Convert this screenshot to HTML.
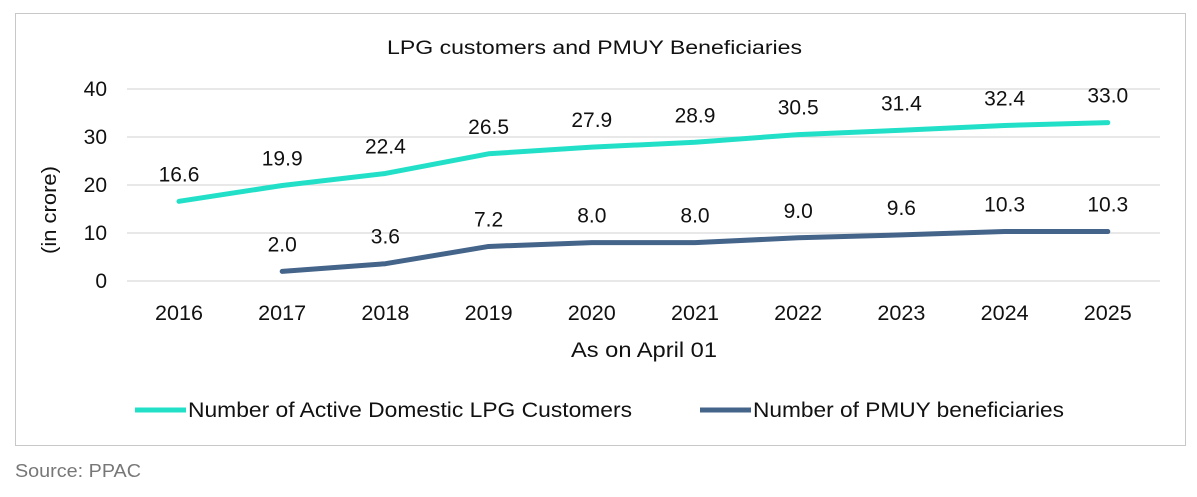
<!DOCTYPE html>
<html><head><meta charset="utf-8"><style>
body{margin:0;background:#fff;width:1197px;height:492px;overflow:hidden}
svg text{font-family:"Liberation Sans",sans-serif;fill:#111}
</style></head><body>
<svg width="1197" height="492">
<rect x="15.5" y="13.5" width="1170" height="432" fill="#fff" stroke="#c8c8c8"/>
<text x="387" y="54" font-size="19" textLength="415" lengthAdjust="spacingAndGlyphs">LPG customers and PMUY Beneficiaries</text>
<g id="grid"></g><g id="yt"></g><g id="xt"></g><g id="lines"></g><g id="labels"></g>
<text transform="translate(56,210) rotate(-90)" font-size="20" textLength="88" lengthAdjust="spacingAndGlyphs" text-anchor="middle">(in crore)</text>
<text x="571" y="357" font-size="21" textLength="146" lengthAdjust="spacingAndGlyphs">As on April 01</text>
<line x1="135" y1="410" x2="186" y2="410" stroke="#22E0C8" stroke-width="5"/>
<text x="188" y="417" font-size="21" textLength="444" lengthAdjust="spacingAndGlyphs">Number of Active Domestic LPG Customers</text>
<line x1="700" y1="410" x2="751" y2="410" stroke="#44648A" stroke-width="5"/>
<text x="753" y="417" font-size="21" textLength="311" lengthAdjust="spacingAndGlyphs">Number of PMUY beneficiaries</text>
<text x="15" y="477" font-size="18" style="fill:#777" textLength="126" lengthAdjust="spacingAndGlyphs">Source: PPAC</text>
</svg>
<script>
const years=["2016","2017","2018","2019","2020","2021","2022","2023","2024","2025"];
const lpg=[16.6,19.9,22.4,26.5,27.9,28.9,30.5,31.4,32.4,33.0];
const pmuy=[null,2.0,3.6,7.2,8.0,8.0,9.0,9.6,10.3,10.3];
const yTicks=[0,10,20,30,40];
const NS="http://www.w3.org/2000/svg";
const x=i=>179+i*103.2;
const y=v=>281-v*(192/40);
function mk(tag,attrs,parent,txt){const e=document.createElementNS(NS,tag);for(const k in attrs)e.setAttribute(k,attrs[k]);if(txt!=null)e.textContent=txt;document.getElementById(parent).appendChild(e);return e;}
yTicks.forEach(t=>{
 const g=mk('line',{x1:127,x2:1160,y1:y(t),y2:y(t),stroke:'#d9d9d9','stroke-width':1.3},'grid');
 
 
 const l=mk('text',{x:107,y:y(t)+7,'font-size':21,'text-anchor':'end'},'yt',t);
 
 
});
years.forEach((yr,i)=>{
 const l=mk('text',{x:x(i),y:320,'font-size':21,'text-anchor':'middle',textLength:48,lengthAdjust:'spacingAndGlyphs'},'xt',yr);
 
 
});
function series(vals,color,name){
 const pts=[];vals.forEach((v,i)=>{if(v!=null)pts.push(x(i)+','+y(v));});
 const p=mk('polyline',{points:pts.join(' '),fill:'none',stroke:color,'stroke-width':5,'stroke-linejoin':'round','stroke-linecap':'round'},'lines');
 
 
 vals.forEach((v,i)=>{if(v==null)return;
  const t=mk('text',{x:x(i),y:y(v)-20,'font-size':21,'text-anchor':'middle'},'labels',v.toFixed(1));
  
  
 });
}
series(lpg,'#22E0C8','lpg');
series(pmuy,'#44648A','pmuy');
</script>
</body></html>
